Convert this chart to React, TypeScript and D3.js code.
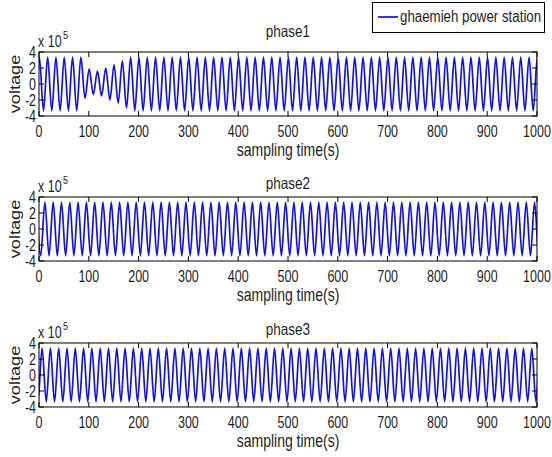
import React from 'react';
import * as d3 from 'd3';

const W = 552;
const H = 457;

// ---- data ----
const xTicks = [0, 100, 200, 300, 400, 500, 600, 700, 800, 900, 1000];
const yTicks = [-4, -2, 0, 2, 4];
const panelTitles = ['phase1', 'phase2', 'phase3'];
const legendLabel = 'ghaemieh power station';
const xLabel = 'sampling time(s)';
const yLabel = 'voltage';
const SAMPLES = 1000;
const CYCLES = 60;
const nominalPeak = 3.35; // x 10^5
const firstPeakAt = [0.7, 11.8, 6.2]; // sample of first positive peak per phase
// phase1 disturbance: half-cycle index -> extremum value (x 10^5)
const phase1DistIdx = [11, 12, 13, 14, 15, 16, 17, 18, 19, 20, 21];
const phase1DistVal = [-1.8, 1.9, -1.3, 1.6, -1.5, 2.0, -2.0, 2.4, -2.4, 2.9, -3.0];

// ---- layout ----
const LEFT = 39;
const RIGHT = 537;
const TOPS = [52, 197, 343];
const PH = 64;
const TITLE_Y = [37, 189, 335];
const FONT = "'Liberation Sans', Arial, Helvetica, sans-serif";
const SY = 1.25;
const TXT = '#1e1e1e';

function Txt({ x, y, size, anchor = 'start', rotate = 0, children }: any) {
  return (
    <text
      transform={`translate(${x},${y}) scale(1,${SY})${rotate ? ` rotate(${rotate})` : ''}`}
      fontSize={size}
      textAnchor={anchor}
      fontFamily={FONT}
      fill={TXT}
    >
      {children}
    </text>
  );
}

function extremaFor(phase: number) {
  const half = SAMPLES / CYCLES / 2;
  const overrides = new Map<number, number>();
  if (phase === 0) phase1DistIdx.forEach((k, i) => overrides.set(k, phase1DistVal[i]));
  const pts: [number, number][] = [];
  for (let k = -2; k <= CYCLES * 2 + 2; k++) {
    const t = firstPeakAt[phase] + k * half;
    const v = overrides.has(k) ? overrides.get(k)! : (k % 2 === 0 ? 1 : -1) * nominalPeak;
    pts.push([t, v]);
  }
  return pts;
}

function Panel({ idx }: { idx: number }) {
  const top = TOPS[idx];
  const bottom = top + PH;
  const x = d3.scaleLinear().domain([0, SAMPLES]).range([LEFT, RIGHT]);
  const y = d3.scaleLinear().domain([-4, 4]).range([bottom, top]);
  const line = d3
    .line<[number, number]>()
    .x((d) => x(d[0]))
    .y((d) => y(d[1]))
    .curve(d3.curveMonotoneX);
  const clipId = `clip${idx}`;
  const tl = 5;
  return (
    <g>
      <defs>
        <clipPath id={clipId}>
          <rect x={LEFT} y={top} width={RIGHT - LEFT} height={PH} />
        </clipPath>
      </defs>
      <rect x={LEFT} y={top} width={RIGHT - LEFT} height={PH} fill="#fff" />
      <path
        d={line(extremaFor(idx)) || ''}
        fill="none"
        stroke="#1010f0"
        strokeWidth={1.7}
        clipPath={`url(#${clipId})`}
      />
      {xTicks.map((t) => (
        <g key={'xt' + t}>
          <line x1={x(t)} x2={x(t)} y1={bottom} y2={bottom - tl} stroke="#000" strokeWidth={1} />
          <line x1={x(t)} x2={x(t)} y1={top} y2={top + tl} stroke="#000" strokeWidth={1} />
          <Txt x={x(t)} y={bottom + 21} size={12.5} anchor="middle">
            {t}
          </Txt>
        </g>
      ))}
      {yTicks.map((t) => (
        <g key={'yt' + t}>
          <line x1={LEFT} x2={LEFT + tl} y1={y(t)} y2={y(t)} stroke="#000" strokeWidth={1} />
          <line x1={RIGHT} x2={RIGHT - tl} y1={y(t)} y2={y(t)} stroke="#000" strokeWidth={1} />
          <Txt x={LEFT - 3} y={y(t) + 5.5} size={12.5} anchor="end">
            {t}
          </Txt>
        </g>
      ))}
      <rect x={LEFT} y={top} width={RIGHT - LEFT} height={PH} fill="none" stroke="#000" strokeWidth={1} />
      <Txt x={38} y={top - 5} size={12.5}>
        x 10
      </Txt>
      <Txt x={63} y={top - 13} size={9}>
        5
      </Txt>
      <Txt x={(LEFT + RIGHT) / 2} y={TITLE_Y[idx]} size={13.5} anchor="middle">
        {panelTitles[idx]}
      </Txt>
      <Txt x={(LEFT + RIGHT) / 2} y={bottom + 40} size={14} anchor="middle">
        {xLabel}
      </Txt>
      <Txt x={20} y={(top + bottom) / 2} size={14.5} anchor="middle" rotate={-90}>
        {yLabel}
      </Txt>
    </g>
  );
}

export default function App() {
  return (
    <svg
      width={W}
      height={H}
      viewBox={`0 0 ${W} ${H}`}
      style={{ position: 'absolute', left: 0, top: 0, background: '#fff' }}
    >
      <rect x={0} y={0} width={W} height={H} fill="#fff" />
      {[0, 1, 2].map((i) => (
        <Panel key={i} idx={i} />
      ))}
      <rect x={372.5} y={2.5} width={172} height={30} fill="#fff" stroke="#000" strokeWidth={1} />
      <line x1={378} x2={398} y1={17} y2={17} stroke="#1010f0" strokeWidth={1.7} />
      <Txt x={400} y={21.5} size={13.3}>
        {legendLabel}
      </Txt>
    </svg>
  );
}
